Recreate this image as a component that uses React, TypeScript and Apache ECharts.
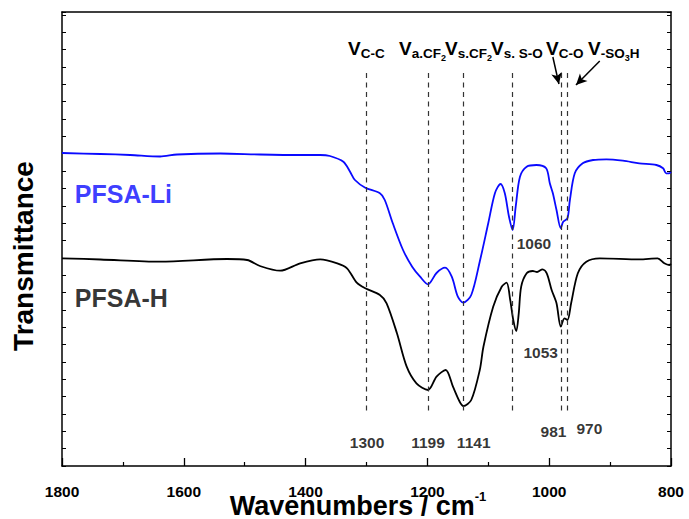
import React, { useEffect, useRef } from "react";
import * as echarts from "echarts";

// ---- data (wavenumber in cm^-1, transmittance in arbitrary units) ----
const liWavenumbers = [1800, 1737, 1688, 1639, 1611, 1540, 1475, 1409, 1376, 1360, 1338, 1327, 1319, 1302, 1278, 1270, 1257, 1240, 1225, 1212, 1199, 1185, 1171, 1160, 1150, 1141, 1128, 1114, 1100, 1089, 1080, 1073, 1066, 1060, 1055, 1048, 1037, 1021, 1005, 999, 994, 988, 981, 977, 970, 966, 958, 945, 928, 906, 879, 852, 824, 813, 808, 803, 800];
const liValues = [31.3, 31.2, 31.1, 30.95, 31.15, 31.25, 31.15, 31.1, 31.1, 31.0, 30.43, 29.43, 28.6, 27.83, 27.27, 26.6, 24.3, 21.6, 19.93, 18.93, 18.17, 19.3, 19.83, 18.93, 16.93, 16.33, 17.1, 20.45, 24.3, 27.3, 28.2, 27.3, 24.93, 23.6, 25.93, 28.93, 29.93, 30.1, 29.77, 28.27, 27.27, 25.6, 23.77, 24.43, 24.77, 26.6, 29.27, 30.27, 30.6, 30.67, 30.53, 30.27, 30.1, 29.77, 29.27, 29.27, 29.4];

const hWavenumbers = [1800, 1737, 1639, 1529, 1496, 1475, 1442, 1409, 1376, 1348, 1332, 1316, 1302, 1278, 1267, 1250, 1234, 1218, 1199, 1185, 1170, 1158, 1147, 1141, 1128, 1114, 1108, 1092, 1078, 1070, 1064, 1059, 1054, 1050, 1046, 1037, 1027, 1020, 1011, 1004, 996, 988, 981, 975, 970, 964, 953, 939, 917, 852, 822, 811, 803, 800];
const hValues = [20.77, 20.65, 20.43, 20.7, 20.6, 20.0, 19.53, 20.27, 20.67, 20.27, 19.77, 18.33, 17.77, 17.1, 16.27, 13.27, 9.93, 8.27, 7.6, 8.93, 9.6, 7.93, 6.43, 6.0, 6.6, 9.6, 11.93, 15.93, 17.93, 18.33, 16.6, 14.6, 13.5, 15.27, 17.93, 19.27, 19.5, 19.4, 19.67, 19.27, 17.6, 16.27, 13.93, 14.77, 14.6, 16.27, 19.27, 20.43, 20.77, 20.67, 20.77, 20.27, 20.1, 20.2];

// assigned band positions (dashed guide lines)
const bandPositions = [1300, 1199, 1141, 1060, 981, 970];
const bandTop = 39.3;
const bandBottom = 5.4;

// peak number labels
const peakLabelTexts = ["1300", "1199", "1141", "1060", "1053", "981", "970"];
const peakLabelX = [1299, 1199, 1124, 1025, 1014, 993, 934];
const peakLabelY = [2.4, 2.4, 2.4, 22.3, 11.4, 3.5, 3.8];

// series name labels
const seriesNames = ["PFSA-Li", "PFSA-H"];
const seriesNameX = [1779, 1779];
const seriesNameY = [27.2, 16.8];

// arrows [x0, y0, x1, y1]
const arrows = [
  [994, 40.9, 984, 38.2],
  [917, 40.5, 956, 38.1],
];

// band assignment labels (rich text)
const bandLabelTexts = [
  "{v|V}{s|C-C}",
  "{v|V}{s|a.CF}{t|2}",
  "{v|V}{s|s.CF}{t|2}",
  "{v|V}{s|s. S-O}",
  "{v|V}{s|C-O}",
  "{v|V}{s|-SO}{t|3}{s|H}",
];
const bandLabelLeft = [348, 399, 445, 491, 546, 588];

const FONT = "'Liberation Sans', Arial, sans-serif";
const BLUE = "#0a0aff";

export default function App() {
  const ref = useRef<HTMLDivElement>(null);

  useEffect(() => {
    if (!ref.current) return;
    const chart = echarts.init(ref.current, undefined, { renderer: "svg" });

    const axisLineStyle = { color: "#000", width: 1.5 };

    const liData = liWavenumbers.map((w, i) => [w, liValues[i]]);
    const hData = hWavenumbers.map((w, i) => [w, hValues[i]]);

    const richV = {
      v: { fontSize: 19, fontWeight: "bold", fontFamily: FONT, fill: "#000", height: 20, verticalAlign: "top" },
      s: { fontSize: 13.5, fontWeight: "bold", fontFamily: FONT, fill: "#000", height: 29, verticalAlign: "top" },
      t: { fontSize: 9, fontWeight: "bold", fontFamily: FONT, fill: "#000", height: 38, verticalAlign: "top" },
    };

    const option: any = {
      animation: false,
      backgroundColor: "#fff",
      grid: { left: 62, right: 18, top: 12, bottom: 53 },
      xAxis: [
        {
          type: "value",
          min: 800,
          max: 1800,
          interval: 200,
          inverse: true,
          axisLine: { show: true, onZero: false, lineStyle: axisLineStyle },
          axisTick: { show: true, inside: true, length: 8, lineStyle: { color: "#000", width: 1.3 } },
          minorTick: { show: true, splitNumber: 2, length: 4, lineStyle: { color: "#000", width: 1.2 } },
          axisLabel: {
            fontFamily: FONT,
            fontWeight: "bold",
            fontSize: 15.5,
            color: "#000",
            margin: 17,
            formatter: (v: number) => String(v),
          },
          splitLine: { show: false },
        },
        {
          type: "value",
          position: "top",
          min: 800,
          max: 1800,
          inverse: true,
          axisLine: { show: true, onZero: false, lineStyle: axisLineStyle },
          axisTick: { show: false },
          axisLabel: { show: false },
          splitLine: { show: false },
        },
      ],
      yAxis: [
        {
          type: "value",
          min: 0,
          max: 45.4,
          interval: 1.735,
          axisLine: { show: true, onZero: false, lineStyle: axisLineStyle },
          axisTick: { show: true, inside: true, length: 4, lineStyle: { color: "#000", width: 1 } },
          axisLabel: { show: false },
          splitLine: { show: false },
        },
        {
          type: "value",
          position: "right",
          min: 0,
          max: 45.4,
          interval: 1.735,
          axisLine: { show: true, onZero: false, lineStyle: axisLineStyle },
          axisTick: { show: true, inside: true, length: 4, lineStyle: { color: "#000", width: 1 } },
          axisLabel: { show: false },
          splitLine: { show: false },
        },
      ],
      series: [
        {
          type: "line",
          name: "PFSA-Li",
          data: liData,
          smooth: 0.3,
          showSymbol: false,
          lineStyle: { color: BLUE, width: 1.8 },
          itemStyle: { color: BLUE },
          z: 3,
          markLine: {
            silent: true,
            symbol: ["none", "none"],
            label: { show: false },
            lineStyle: { color: "#333", width: 1.2, type: [5, 4.5] },
            data: bandPositions.map((w) => [{ coord: [w, bandTop] }, { coord: [w, bandBottom] }]),
          },
        },
        {
          type: "line",
          name: "PFSA-H",
          data: hData,
          smooth: 0.3,
          showSymbol: false,
          lineStyle: { color: "#000", width: 1.8 },
          itemStyle: { color: "#000" },
          z: 3,
          markLine: {
            silent: true,
            symbol: ["none", "arrow"],
            symbolSize: [8, 11],
            label: { show: false },
            lineStyle: { color: "#000", width: 1.5, type: "solid" },
            data: arrows.map((a) => [{ coord: [a[0], a[1]] }, { coord: [a[2], a[3]] }]),
          },
        },
        {
          type: "scatter",
          symbolSize: 0,
          silent: true,
          data: peakLabelTexts.map((t, i) => ({ value: [peakLabelX[i], peakLabelY[i]], name: t })),
          label: {
            show: true,
            position: "inside",
            formatter: (p: any) => p.name,
            fontFamily: FONT,
            fontWeight: "bold",
            fontSize: 15.5,
            color: "#000",
          },
          z: 5,
        },
        {
          type: "scatter",
          symbolSize: 0,
          silent: true,
          data: seriesNames.map((t, i) => ({
            value: [seriesNameX[i], seriesNameY[i]],
            name: t,
            label: { color: i === 0 ? BLUE : "#000" },
          })),
          label: {
            show: true,
            position: "right",
            distance: 0,
            formatter: (p: any) => p.name,
            fontFamily: FONT,
            fontWeight: "bold",
            fontSize: 25,
          },
          z: 5,
        },
      ],
      graphic: [
        ...bandLabelTexts.map((t, i) => ({
          type: "text",
          x: bandLabelLeft[i],
          y: 38.5,
          silent: true,
          style: {
            text: t,
            rich: richV,
            align: "left",
            verticalAlign: "top",
          },
        })),
        {
          type: "text",
          x: 358,
          y: 492,
          silent: true,
          style: {
            text: "{a|Wavenumbers / cm}{b|-1}",
            align: "center",
            verticalAlign: "top",
            rich: {
              a: { fontSize: 27, fontWeight: "bold", fontFamily: FONT, fill: "#000", height: 27, verticalAlign: "top" },
              b: { fontSize: 13, fontWeight: "bold", fontFamily: FONT, fill: "#000", height: 8, verticalAlign: "top" },
            },
          },
        },
        {
          type: "text",
          x: 23,
          y: 256,
          rotation: Math.PI / 2,
          silent: true,
          style: {
            text: "Transmittance",
            fontSize: 28,
            fontWeight: "bold",
            fontFamily: FONT,
            fill: "#000",
            align: "center",
            verticalAlign: "middle",
          },
        },
      ],
    };

    chart.setOption(option);
    return () => chart.dispose();
  }, []);

  return (
    <div
      ref={ref}
      style={{ position: "fixed", left: 0, top: 0, width: 689, height: 519, background: "#fff" }}
    />
  );
}
